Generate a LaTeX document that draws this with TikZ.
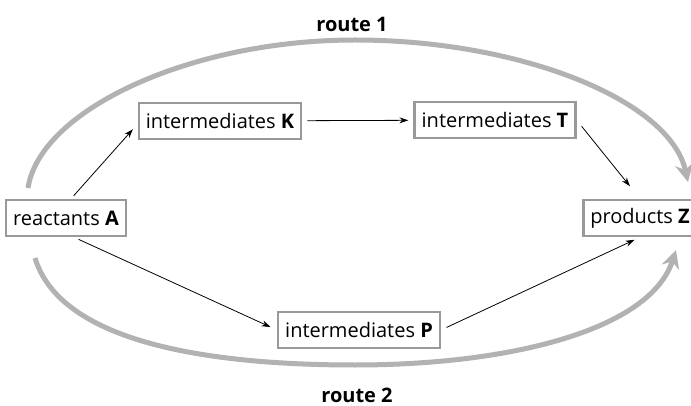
\documentclass[tikz,border=0pt]{standalone}
\usepackage{fontspec}
\setmainfont{Open Sans}
\usetikzlibrary{arrows.meta}
\begin{document}
\begin{tikzpicture}[x=1pt,y=-1pt]
        \tikzstyle{species}=[rectangle,draw=black!40,line width=2.5pt,fill=white,inner xsep=7pt,minimum height=36pt,font=\fontsize{20}{24}\selectfont]
        \tikzstyle{edge}=[draw,line width=0.8pt,-{Stealth[length=9pt,width=6pt]}]
        \tikzstyle{route}=[draw=black!30,line width=5pt,-{Stealth[length=18pt,width=18pt]}]
        \tikzstyle{routename}=[font=\fontsize{20}{24}\selectfont\bfseries]
        \useasboundingbox (0,0) rectangle (691,406);
        \begin{scope}
            \coordinate (r1s) at (28,188);
            \coordinate (r1m) at (355,40);
            \coordinate (r1e) at (688,182);
            \coordinate (r2s) at (35,258);
            \coordinate (r2m) at (355,365);
            \coordinate (r2e) at (676,250);
            \path[route] (r1s) .. controls (40,110) and (190,40) .. (r1m) .. controls (520,40) and (670,100) .. (r1e);
            \path[route] (r2s) .. controls (60,340) and (200,365) .. (r2m) .. controls (510,365) and (650,330) .. (r2e);
            \node [species] (A) at (66,218) {reactants \textbf{A}};
            \node [species] (K) at (220,121) {intermediates \textbf{K}};
            \node [species] (T) at (495,120) {intermediates \textbf{T}};
            \node [species] (P) at (359,330) {intermediates \textbf{P}};
            \node [species,anchor=west] (Z) at (582,218) {products \textbf{Z}};
            \node [routename] (n1) at (352,24) {route 1};
            \node [routename] (n2) at (357,395) {route 2};
            \path[edge] ([xshift=5pt]A.north) -- ([yshift=-3pt]K.west) [shorten <=4pt,shorten >=7pt];
            \path[edge] (K) -- (T) [shorten <=5pt,shorten >=5pt];
            \path[edge] (T.east) -- (Z.north) [shorten <=8pt,shorten >=16pt];
            \path[edge] ([xshift=8pt]A.south) -- (P.west) [shorten <=5pt,shorten >=7pt];
            \path[edge] (P.east) -- (Z.south) [shorten <=6pt,shorten >=6pt];
        \end{scope}
\end{tikzpicture}
\end{document}
